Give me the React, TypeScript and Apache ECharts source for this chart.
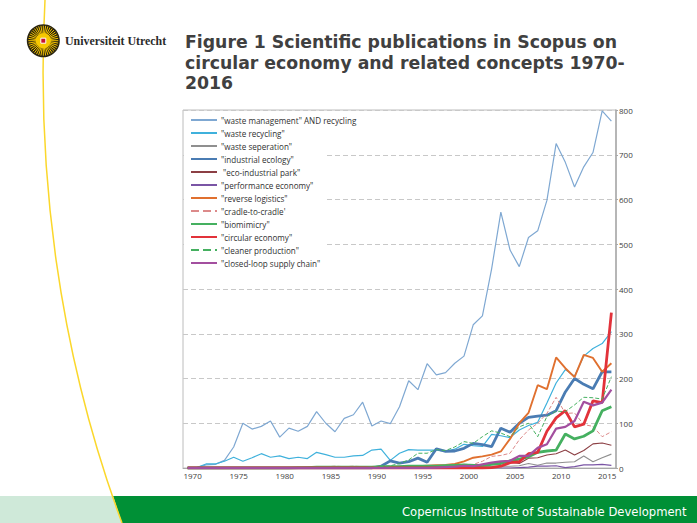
import React, { useEffect, useRef } from "react";
import * as echarts from "echarts";

const years = Array.from({ length: 47 }, (_, i) => String(1970 + i));
const titleText = "Figure 1 Scientific publications in Scopus on\ncircular economy and related concepts 1970-\n2016";
const footerText = "Copernicus Institute of Sustainable Development";
const logoText = "Universiteit Utrecht";

const wasteManagement = [0,1,7,8,17,47,100,87,93,105,69,89,82,93,126,100,81,111,119,147,94,105,99,137,195,175,233,208,213,234,250,320,340,445,572,487,450,515,530,598,725,683,628,673,705,798,775];
const wasteRecycling = [0,1,9,9,15,24,15,23,32,24,27,21,24,21,35,30,24,24,27,28,40,42,17,33,41,40,40,40,37,42,53,50,48,75,72,68,85,95,102,145,190,220,205,250,267,278,305];
const wasteSeparation = [0,1,1,1,0,1,1,0,1,0,1,1,1,2,1,2,2,2,3,2,2,3,2,3,3,2,3,3,2,3,3,3,4,3,4,4,5,10,6,11,11,13,14,27,14,23,31];
const industrialEcology = [0,0,0,0,0,0,0,0,0,0,0,0,0,0,0,0,0,0,0,0,0,4,16,11,14,22,13,43,37,38,44,55,52,48,89,80,100,113,116,118,128,170,200,187,177,215,215];
const ecoIndustrialPark = [0,0,0,0,0,0,0,0,0,0,0,0,0,0,0,0,0,0,0,0,0,0,0,0,1,0,1,1,1,1,2,2,5,8,12,13,10,22,23,29,32,40,29,39,54,56,51];
const performanceEconomy = [0,0,0,0,0,0,0,0,0,0,0,0,0,0,0,0,0,0,0,0,0,0,0,0,0,0,0,0,0,0,0,0,0,0,0,0,1,2,4,4,5,1,3,7,7,8,6];
const reverseLogistics = [0,0,0,0,0,0,0,0,0,0,0,0,0,0,0,0,0,0,0,0,1,2,2,3,3,4,5,6,7,9,15,23,26,30,37,65,100,123,185,176,247,223,203,253,246,215,234];
const cradleToCradle = [0,0,0,0,1,0,0,1,0,0,0,1,1,1,2,3,4,3,4,3,2,3,2,4,3,4,5,5,6,7,8,8,15,26,28,33,63,85,100,122,158,122,123,97,93,70,81];
const biomimicry = [0,0,0,0,0,0,0,0,0,0,0,0,1,1,2,2,2,2,2,2,2,3,3,3,4,4,4,4,5,6,7,6,6,8,10,16,20,25,35,38,40,76,65,71,83,128,137];
const circularEconomy = [0,0,0,0,0,0,0,0,0,0,0,0,0,0,0,0,0,0,0,0,0,0,0,0,0,0,0,0,0,0,0,0,0,1,4,12,14,32,35,82,112,128,92,98,150,146,347];
const cleanerProduction = [0,0,0,0,0,0,0,0,0,0,0,0,0,0,0,0,0,1,1,1,2,3,5,10,18,33,33,41,39,47,59,55,70,83,78,70,92,100,70,115,127,126,141,158,157,154,204];
const closedLoop = [0,0,0,0,0,0,0,0,0,0,0,0,0,0,0,0,0,0,0,0,0,0,0,0,0,0,0,1,2,3,5,4,8,12,15,16,27,27,45,53,88,92,105,148,140,146,175];

type Spec = [string, number[], string, number, string?];
const seriesSpec: Spec[] = [
  ['"waste management" AND recycling', wasteManagement, "#7fa8d2", 1.2],
  ['"waste recycling"', wasteRecycling, "#3fb1dc", 1.2],
  ['"waste seperation"', wasteSeparation, "#8f8f8f", 1.1],
  ['"industrial ecology"', industrialEcology, "#4a7cb3", 2.8],
  [' "eco-industrial park"', ecoIndustrialPark, "#8c3f44", 1.1],
  ['"performance economy"', performanceEconomy, "#7a55a5", 1.2],
  ['"reverse logistics"', reverseLogistics, "#e0702f", 1.9],
  ['"cradle-to-cradle\'', cradleToCradle, "#dc8a8a", 1, "dashed"],
  ['"biomimicry"', biomimicry, "#45b060", 2.8],
  ['"circular economy"', circularEconomy, "#e2323a", 2.8],
  ['"cleaner production"', cleanerProduction, "#45b060", 1, "dashed"],
  ['"closed-loop supply chain"', closedLoop, "#a34f9f", 2.2],
];

const rayAngles = Array.from({ length: 40 }, (_, i) => (i * Math.PI) / 20);

export default function App() {
  const ref = useRef<HTMLDivElement>(null);
  useEffect(() => {
    const chart = echarts.init(ref.current!, undefined, { renderer: "svg" });
    const cx = 43.3, cy = 40.7;
    chart.setOption({
      animation: false,
      backgroundColor: "#ffffff",
      textStyle: { fontFamily: "Open Sans" },
      title: {
        text: titleText,
        left: 185,
        top: 32,
        padding: 0,
        textStyle: { fontFamily: "DejaVu Sans", fontSize: 17.3, fontWeight: "bold", color: "#404040", lineHeight: 20.5 },
      },
      grid: { left: 183, right: 81, top: 110, bottom: 55, show: true, borderColor: "#bcbcbc", borderWidth: 1, backgroundColor: "transparent" },
      legend: {
        orient: "vertical",
        left: 190,
        top: 116,
        padding: 0,
        itemWidth: 26,
        itemHeight: 5,
        itemGap: 5,
        selectedMode: false,
        itemStyle: { opacity: 0, color: "transparent", borderWidth: 0 },
        data: seriesSpec.map((s) => s[0]),
        textStyle: { fontFamily: "Open Sans", fontSize: 8.1, color: "#303030", padding: [0, 0, 0, -1] },
      },
      xAxis: {
        type: "category",
        data: years,
        boundaryGap: true,
        axisLine: { lineStyle: { color: "#a8a8a8", width: 1 } },
        axisTick: { show: false },
        axisLabel: { interval: 4, fontSize: 8, color: "#404040", margin: 3, padding: [0, 0, 0, 10] },
      },
      yAxis: {
        type: "value",
        position: "right",
        min: 0,
        max: 800,
        interval: 100,
        axisLine: { show: true, lineStyle: { color: "#a8a8a8", width: 1.5 } },
        axisTick: { show: true, length: 2, lineStyle: { color: "#a8a8a8" } },
        axisLabel: { fontSize: 8, color: "#404040", margin: 3 },
        splitLine: { show: true, lineStyle: { color: "#c8c8c8", type: [5, 3], width: 1 } },
      },
      series: seriesSpec.map(([name, data, color, width, dash]) => ({
        name,
        type: "line",
        data,
        symbol: "none",
        smooth: false,
        itemStyle: { color },
        lineStyle: { color, width, type: dash || "solid" },
      })),
      graphic: [
        { type: "rect", z: 1, shape: { x: 184, y: 111, width: 143, height: 160 }, style: { fill: "#ffffff" } },
        { type: "polygon", shape: { points: [[0, 496], [113, 496], [122, 523], [0, 523]] }, style: { fill: "#cfe9d9" } },
        { type: "polygon", shape: { points: [[113, 496], [697, 496], [697, 523], [122, 523]] }, style: { fill: "#009036" } },
        {
          type: "bezierCurve",
          shape: { x1: 45, y1: 0, cpx1: 36, cpy1: 170, cpx2: 58, cpy2: 350, x2: 122, y2: 523 },
          style: { stroke: "#fbd72b", lineWidth: 1.5, fill: "none" },
        },
        { type: "circle", shape: { cx, cy, r: 16.5 }, style: { fill: "#2a2410" } },
        ...rayAngles.map((a) => ({
          type: "line",
          shape: { x1: cx + 6 * Math.cos(a), y1: cy + 6 * Math.sin(a), x2: cx + 15 * Math.cos(a), y2: cy + 15 * Math.sin(a) },
          style: { stroke: "#f3c300", lineWidth: 1 },
        })),
        { type: "circle", shape: { cx, cy, r: 7.5 }, style: { fill: "#f6c800" } },
        { type: "rect", shape: { x: cx - 2.5, y: cy - 2.5, width: 5, height: 5 }, style: { fill: "#c8102e", stroke: "#ffffff", lineWidth: 1 } },
        {
          type: "text",
          x: 65,
          y: 40.7,
          style: { text: logoText, fontFamily: "Liberation Serif", fontWeight: "bold", fontSize: 11.9, fill: "#2b2b2b", verticalAlign: "middle", align: "left" },
        },
        {
          type: "text",
          x: 402,
          y: 512,
          style: { text: footerText, fontFamily: "DejaVu Sans", fontSize: 11.6, fill: "#ffffff", verticalAlign: "middle", align: "left" },
        },
      ],
    });
    return () => chart.dispose();
  }, []);
  return <div ref={ref} style={{ position: "fixed", left: 0, top: 0, width: 697, height: 523 }} />;
}
